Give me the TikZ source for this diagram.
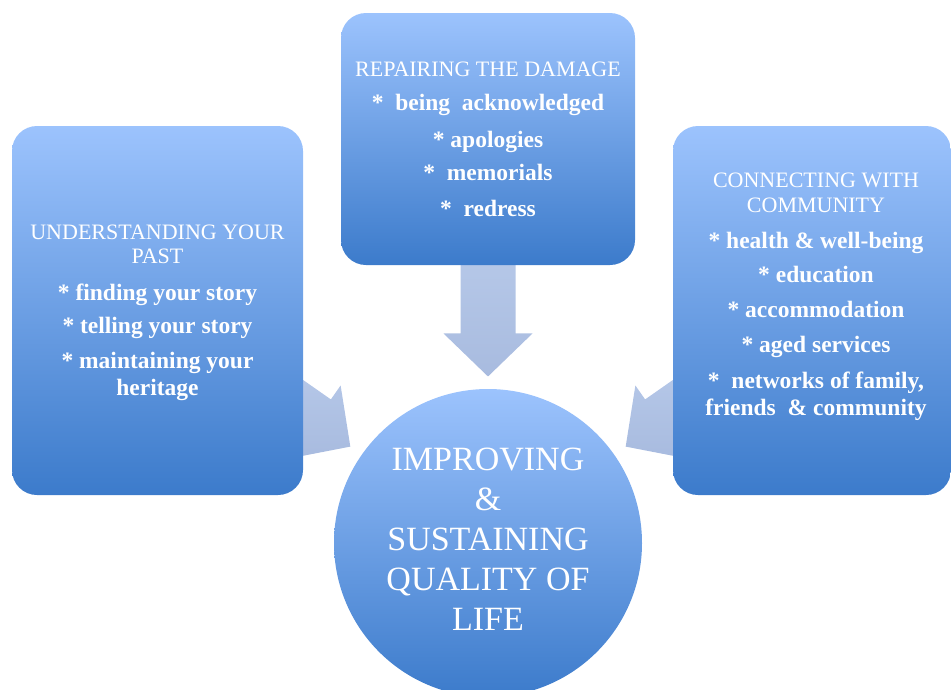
\documentclass[tikz,border=0pt]{standalone}
\usepackage{fontspec}
\setmainfont{Liberation Serif}
\usetikzlibrary{calc,backgrounds}

\definecolor{boxtop}{HTML}{9CC3FD}
\definecolor{boxbot}{HTML}{3C7BCB}
\definecolor{arrowtop}{HTML}{B7C9E9}
\definecolor{arrowbot}{HTML}{A8BBDF}

\newcommand{\headfont}{\fontsize{22}{25}\selectfont\mdseries}
\newcommand{\bulletfont}{\fontsize{23.5}{25}\selectfont\bfseries}

\tikzset{
  cardbox/.style = {rounded corners=25pt, top color=boxtop, bottom color=boxbot,
                    draw=none, inner sep=0pt},
  boxtext/.style = {text=white, align=center, inner sep=0pt, font=\headfont},
  pics/fatarrow/.style = {code={
    \shade[top color=arrowtop, bottom color=arrowbot]
      (0pt,0pt) -- (-43pt,44.5pt) -- (-43pt,27.5pt) -- (-#1,27.5pt)
      -- (-#1,-27.5pt) -- (-43pt,-27.5pt) -- (-43pt,-44.5pt) -- cycle;}}
}

\begin{document}
\begin{tikzpicture}[x=1pt, y=-1pt]
  \useasboundingbox (0,0) rectangle (951,689);

  % boxes and circle
  \node[cardbox, minimum width=291pt, minimum height=369pt] (past) at (157.5,310.5) {};
  \node[cardbox, minimum width=294pt, minimum height=252pt] (damage) at (488,139) {};
  \node[cardbox, minimum width=278pt, minimum height=369pt] (community) at (812,310.5) {};
  \node[circle, top color=boxtop, bottom color=boxbot, draw=none,
        minimum size=308pt, inner sep=0pt] (quality) at (488,543) {};

  % arrows into the circle
  \begin{scope}[on background layer]
    \pic[rotate=-35]  at ($(quality.center)!1.09!(quality.145)$) {fatarrow=110pt};
    \pic[rotate=-90]  at ($(quality.center)!1.08!(quality.north)$) {fatarrow=130pt};
    \pic[rotate=-145] at ($(quality.center)!1.09!(quality.35)$) {fatarrow=110pt};
  \end{scope}

  \node[boxtext] (pasttext) at ($(past.center)+(0,2)$)
    {UNDERSTANDING YOUR\\[-1pt]PAST\\[12pt]
     \bulletfont * finding your story\\[8pt]
     \bulletfont * telling your story\\[10pt]
     \bulletfont * maintaining your\\[2pt]
     \bulletfont heritage};
  \node[boxtext] (damagetext) at (damage.center)
    {REPAIRING THE DAMAGE\\[9pt]
     \bulletfont *~ being~ acknowledged\\[12pt]
     \bulletfont * apologies\\[8pt]
     \bulletfont *~ memorials\\[11pt]
     \bulletfont *~ redress};
  \node[boxtext] (communitytext) at ($(community.center)+(4,-14)$)
    {CONNECTING WITH\\COMMUNITY\\[11pt]
     \bulletfont * health \& well-being\\[9pt]
     \bulletfont * education\\[10pt]
     \bulletfont * accommodation\\[10pt]
     \bulletfont * aged services\\[11pt]
     \bulletfont *~ networks of family,\\[2pt]
     \bulletfont friends~ \& community};
  \node[boxtext, font=\fontsize{34}{40}\selectfont] (qualitytext) at ($(quality.center)+(0,-4)$)
    {IMPROVING\\\&\\SUSTAINING\\QUALITY OF\\LIFE};

\end{tikzpicture}
\end{document}
